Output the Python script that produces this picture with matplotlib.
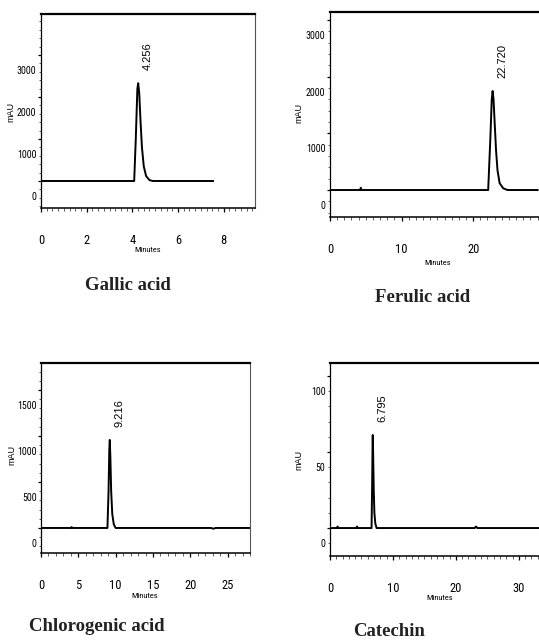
import matplotlib
matplotlib.use("Agg")
import matplotlib.pyplot as plt
from matplotlib import font_manager as fm
from matplotlib.ticker import MultipleLocator
from matplotlib.transforms import ScaledTranslation

# ---------------- data ----------------
titles = ["Gallic acid", "Ferulic acid", "Chlorogenic acid", "Catechin"]
peak_labels = ["4.256", "22.720", "9.216", "6.795"]
peak_times = [4.256, 22.720, 9.216, 6.795]

gallic_t = [0.0, 4.08, 4.15, 4.22, 4.256, 4.30, 4.36, 4.42, 4.50, 4.60, 4.75, 4.90, 7.53]
gallic_v = [0, 0, 1000, 2200, 2330, 2100, 1400, 800, 350, 120, 20, 0, 0]

ferulic_t = [0.0, 4.2, 4.3, 4.4, 22.1, 22.4, 22.6, 22.72, 22.85, 23.0, 23.2, 23.4, 23.7, 24.2, 24.8, 29.0]
ferulic_v = [0, 0, 40, 0, 0, 900, 1600, 1746, 1600, 1200, 700, 350, 120, 30, 0, 0]

chloro_t = [0.0, 4.0, 4.1, 4.2, 8.9, 9.05, 9.15, 9.216, 9.30, 9.40, 9.55, 9.75, 10.0, 22.8, 23.1, 23.4, 28.0]
chloro_v = [0, 0, 10, 0, 0, 400, 850, 957, 750, 400, 150, 40, 0, 0, -8, 0, 0]

catechin_t = [0.0, 1.1, 1.2, 1.3, 4.2, 4.3, 4.4, 6.6, 6.7, 6.77, 6.795, 6.85, 6.95, 7.05, 7.2, 7.4,
              23.0, 23.2, 23.4, 33.2]
catechin_v = [0, 0, 1.0, 0, 0, 1.0, 0, 0, 30, 58, 61.2, 50, 25, 10, 3, 0, 0, 1.0, 0, 0]

series_t = [gallic_t, ferulic_t, chloro_t, catechin_t]
series_v = [gallic_v, ferulic_v, chloro_v, catechin_v]

x_limits = [(0, 9.37), (0, 29.2), (0, 28.0), (0, 33.2)]
y_limits = [(-643, 3976), (-476, 3140), (-272, 1793), (-18.4, 108.6)]
x_major = [[0, 2, 4, 6, 8], [0, 10, 20], [0, 5, 10, 15, 20, 25], [0, 10, 20, 30]]
x_minor = [0.25, 1, 1, 1]
y_major = [[0, 1000, 2000, 3000], [0, 1000, 2000, 3000], [0, 500, 1000, 1500], [0, 50, 100]]
y_minor = [200, 200, 100, 10]

# ---------------- fonts ----------------
ttf = fm.fontManager.ttflist
names = {f.name for f in ttf}


def pick_condensed():
    prefs = ["Liberation Sans Narrow", "Roboto Condensed", "DejaVu Sans Condensed",
             "Open Sans Condensed", "Noto Sans Condensed"]
    regular = [f for f in ttf if f.style == "normal" and f.weight in (400, "normal", "regular")]
    for p in prefs:
        for f in regular:
            if f.name == p:
                return f.fname
    for f in regular:
        if f.stretch in ("condensed", "semi-condensed", "extra-condensed") and "Mono" not in f.name \
                and "Serif" not in f.name:
            return f.fname
    for f in regular:
        if ("Narrow" in f.name or "Condensed" in f.name) and "Mono" not in f.name:
            return f.fname
    return None


cond_file = pick_condensed()
sans = "Liberation Sans" if "Liberation Sans" in names else "DejaVu Sans"
serif = "Liberation Serif" if "Liberation Serif" in names else "DejaVu Serif"


def cond_fp(size):
    if cond_file:
        return fm.FontProperties(fname=cond_file, size=size)
    return fm.FontProperties(family=sans, size=size * 0.85)


# ---------------- layout (pixels) ----------------
W, H = 539, 640
fig = plt.figure(figsize=(W / 100, H / 100), dpi=100)

boxes = [(41, 255, 14, 208), (330, 539, 12, 217), (41, 250, 363, 553), (330, 539, 363, 556)]
xlabel_pos = [(0.5, -0.201), (0.517, -0.21), (0.498, -0.21), (0.526, -0.202)]
ylabel_pos = [(-0.118, 0.495), (-0.125, 0.507), (-0.12, 0.516), (-0.125, 0.497)]
title_pos = [(127.5, 290), (423, 302), (97, 631), (389, 636)]
right_visible = [True, False, True, False]

for i in range(4):
    l, r, t, b = boxes[i]
    ax = fig.add_axes([l / W, 1 - b / H, (r - l) / W, (b - t) / H])
    ax.plot(series_t[i], series_v[i], color="black", lw=1.4, solid_joinstyle="round")
    ax.set_xlim(*x_limits[i])
    ax.set_ylim(*y_limits[i])
    ax.xaxis.set_minor_locator(MultipleLocator(x_minor[i]))
    ax.yaxis.set_minor_locator(MultipleLocator(y_minor[i]))

    ax.tick_params(axis="x", which="major", direction="out", length=3, width=0.9,
                   pad=15.5, color="black")
    ax.tick_params(axis="x", which="minor", direction="out", length=1.8, width=0.6, color="#444444")
    ax.tick_params(axis="y", which="major", direction="out", length=2.2, width=0.9,
                   pad=1, color="black")
    ax.tick_params(axis="y", which="minor", direction="out", length=1.2, width=0.6, color="#444444")

    ax.set_xticks(x_major[i])
    ax.set_xticklabels([str(v) for v in x_major[i]], fontproperties=cond_fp(9))
    ax.set_yticks(y_major[i])
    ax.set_yticklabels([str(v) for v in y_major[i]], fontproperties=cond_fp(7.2))

    # tick labels in the reference sit ~15 px below their tick marks
    off = ScaledTranslation(0, -0.15, fig.dpi_scale_trans)
    for tk in ax.yaxis.get_major_ticks():
        tk.label1.set_transform(tk.label1.get_transform() + off)

    ax.spines["top"].set_linewidth(1.6)
    ax.spines["left"].set_linewidth(0.9)
    ax.spines["bottom"].set_linewidth(1.1)
    ax.spines["right"].set_linewidth(0.8)
    ax.spines["right"].set_color("#555555")
    ax.spines["right"].set_visible(right_visible[i])

    ax.set_xlabel("Minutes", fontproperties=cond_fp(6))
    ax.xaxis.set_label_coords(*xlabel_pos[i])
    ax.set_ylabel("mAU", fontsize=6.5, family=sans)
    ax.yaxis.set_label_coords(*ylabel_pos[i])

    pk = max(series_v[i])
    ax.annotate(peak_labels[i], xy=(peak_times[i], pk), xytext=(10, 13),
                textcoords="offset pixels", rotation=90, ha="center", va="bottom",
                fontsize=8, family=sans)

    tx, ty = title_pos[i]
    fig.text(tx / W, 1 - ty / H, titles[i], ha="center", va="baseline",
             fontsize=13.5, fontweight="bold", family=serif, color="#222222")

fig.savefig("out.png", dpi=100)
